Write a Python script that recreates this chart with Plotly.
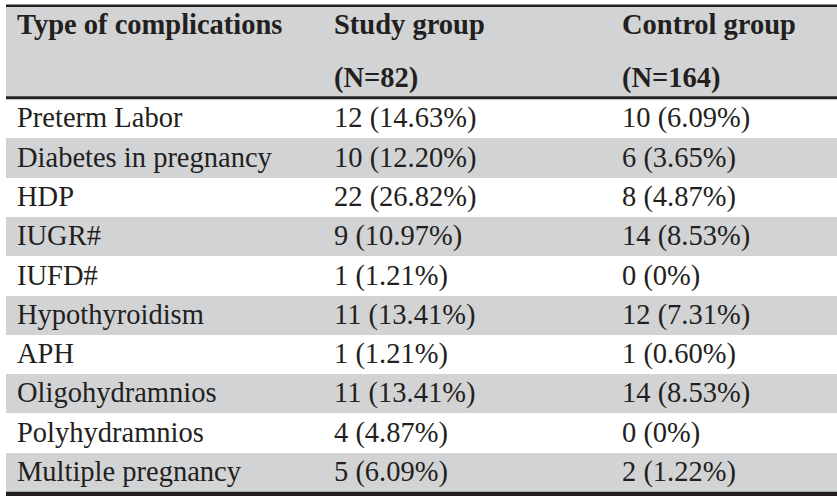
import plotly.graph_objects as go

# table content
complications = [
    "Preterm Labor", "Diabetes in pregnancy", "HDP", "IUGR#", "IUFD#",
    "Hypothyroidism", "APH", "Oligohydramnios", "Polyhydramnios",
    "Multiple pregnancy",
]
study_group = [
    "12 (14.63%)", "10 (12.20%)", "22 (26.82%)", "9 (10.97%)", "1 (1.21%)",
    "11 (13.41%)", "1 (1.21%)", "11 (13.41%)", "4 (4.87%)", "5 (6.09%)",
]
control_group = [
    "10 (6.09%)", "6 (3.65%)", "8 (4.87%)", "14 (8.53%)", "0 (0%)",
    "12 (7.31%)", "1 (0.60%)", "14 (8.53%)", "0 (0%)", "2 (1.22%)",
]
header_top = ["Type of complications", "Study group", "Control group"]
header_bottom = ["", "(N=82)", "(N=164)"]

W, H = 837, 496
INK = "#231f20"
GREY = "#d2d3d5"
FONT = "Liberation Serif, Times New Roman, serif"
FS = 28.5

col_x = [17, 334, 622]
left, right = 6, 837
n = len(complications)
rows = list(range(n))

# y axis in row units, row i centred on i
px_per_row = 39.3
body_top_px = 99
y_top = -0.5 - body_top_px / px_per_row
y_bot = -0.5 + (H - body_top_px) / px_per_row
text_nudge = 1.6 / px_per_row  # plotly centres text a touch high


def py(p):
    return -0.5 - (body_top_px - p) / px_per_row


fig = go.Figure()

# striped rows
grey_rows = [i for i in rows if i % 2 == 1]
fig.add_trace(go.Bar(
    y=grey_rows, x=[right - left] * len(grey_rows), base=left,
    orientation="h", width=1, marker=dict(color=GREY, line=dict(width=0)),
    hoverinfo="skip", showlegend=False,
))

# header background and rules
fig.add_shape(type="rect", x0=left, x1=right, y0=py(7), y1=py(96.5),
              fillcolor=GREY, line_width=0, layer="below")
fig.add_shape(type="rect", x0=left, x1=right, y0=py(4.5), y1=py(7),
              fillcolor=INK, line_width=0)
fig.add_shape(type="rect", x0=left, x1=right, y0=py(96.3), y1=py(99.3),
              fillcolor=INK, line_width=0)
fig.add_shape(type="rect", x0=left, x1=right, y0=py(491.7), y1=py(500),
              fillcolor=INK, line_width=0)

# header text
for label_row, ypix in ((header_top, 27.0), (header_bottom, 80.2)):
    fig.add_trace(go.Scatter(
        x=col_x, y=[py(ypix)] * 3, text=[f"<b>{t}</b>" for t in label_row],
        mode="text", textposition="middle right",
        textfont=dict(family=FONT, size=FS, color=INK),
        hoverinfo="skip", showlegend=False,
    ))

# body text
for cx, col in zip(col_x, (complications, study_group, control_group)):
    fig.add_trace(go.Scatter(
        x=[cx] * n, y=[r + text_nudge for r in rows], text=col, mode="text",
        textposition="middle right",
        textfont=dict(family=FONT, size=FS, color=INK),
        hoverinfo="skip", showlegend=False,
    ))

fig.update_layout(
    width=W, height=H, margin=dict(l=0, r=0, t=0, b=0),
    plot_bgcolor="white", paper_bgcolor="white", bargap=0,
    xaxis=dict(range=[0, W], visible=False, fixedrange=True),
    yaxis=dict(range=[y_bot, y_top], visible=False, fixedrange=True),
)

# the page body has a default 8px margin; drop it so the table sits flush
fig.write_html("out.html", config={"displayModeBar": False},
               post_script="document.body.style.margin='0';")
